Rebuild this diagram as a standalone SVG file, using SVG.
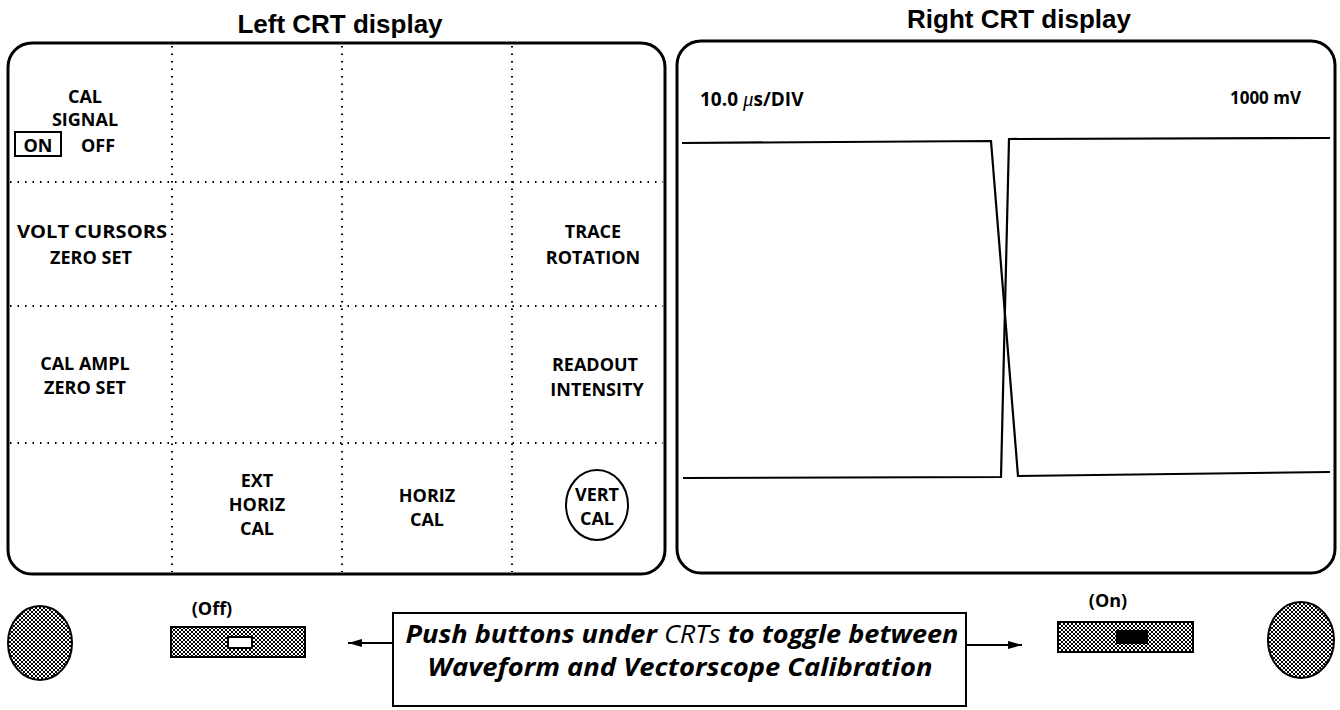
<svg xmlns="http://www.w3.org/2000/svg" width="1340" height="710" viewBox="0 0 1340 710">
<style>
.title{font-family:"Liberation Sans",Arial,sans-serif;font-weight:bold;font-size:26px;fill:#000;text-anchor:middle}
.lbl{font-family:"Open Sans","Liberation Sans",sans-serif;font-weight:bold;font-size:18px;fill:#000;text-anchor:middle}
.rd{font-family:"Open Sans","Liberation Sans",sans-serif;font-weight:bold;font-size:17px;fill:#000}
.frame{fill:none;stroke:#000;stroke-width:3}
.grid{stroke:#000;stroke-width:2;stroke-dasharray:1.5 6;fill:none}
.trace{fill:none;stroke:#000;stroke-width:2.2;stroke-linejoin:miter}
.hatch{fill:url(#hp);stroke:#000;stroke-width:2}
.note{font-family:"Open Sans","Liberation Sans",sans-serif;font-style:italic;font-weight:bold;font-size:25px;fill:#000;text-anchor:middle}
</style>
<defs>
<pattern id="hp" width="4" height="4" patternUnits="userSpaceOnUse">
<rect width="4" height="4" fill="#fff"/>
<path d="M0,4 L4,0 M0,0 L4,4" stroke="#000" stroke-width="1"/>
</pattern>
<marker id="ah" viewBox="0 0 14 10" refX="14" refY="5" markerWidth="14" markerHeight="10" markerUnits="userSpaceOnUse" orient="auto">
<path d="M0,1 L14,5 L0,9 Z" fill="#000"/>
</marker>
</defs>
<rect width="1340" height="710" fill="#fff"/>

<g id="left-crt">
<text class="title" x="340" y="33">Left CRT display</text>
<rect class="frame" x="8" y="43" width="657" height="531" rx="24"/>
<path class="grid" d="M172,46 V572 M342,46 V572 M512,46 V572 M10,182 H663 M10,306 H663 M10,443 H663"/>
</g>

<g id="cal-signal">
<text class="lbl" x="85" y="103">CAL</text>
<text class="lbl" x="85" y="126">SIGNAL</text>
<rect x="15" y="132" width="46" height="24" fill="none" stroke="#000" stroke-width="2"/>
<text class="lbl" x="38" y="152">ON</text>
<text class="lbl" x="98" y="152">OFF</text>
</g>
<g id="volt-cursors">
<text class="lbl" x="92" y="238" textLength="150" lengthAdjust="spacingAndGlyphs">VOLT CURSORS</text>
<text class="lbl" x="91" y="264">ZERO SET</text>
</g>
<g id="trace-rotation">
<text class="lbl" x="593" y="238">TRACE</text>
<text class="lbl" x="593" y="264">ROTATION</text>
</g>
<g id="cal-ampl">
<text class="lbl" x="85" y="370">CAL AMPL</text>
<text class="lbl" x="85" y="394">ZERO SET</text>
</g>
<g id="readout-intensity">
<text class="lbl" x="595" y="371">READOUT</text>
<text class="lbl" x="597" y="396">INTENSITY</text>
</g>
<g id="ext-horiz-cal">
<text class="lbl" x="257" y="487">EXT</text>
<text class="lbl" x="257" y="511">HORIZ</text>
<text class="lbl" x="257" y="535">CAL</text>
</g>
<g id="horiz-cal">
<text class="lbl" x="427" y="502">HORIZ</text>
<text class="lbl" x="427" y="526">CAL</text>
</g>
<g id="vert-cal">
<ellipse cx="597" cy="505" rx="31" ry="35" fill="none" stroke="#000" stroke-width="2"/>
<text class="lbl" x="597" y="501">VERT</text>
<text class="lbl" x="597" y="525">CAL</text>
</g>

<g id="right-crt">
<text class="title" x="1019" y="28">Right CRT display</text>
<rect class="frame" x="677" y="41" width="658" height="532" rx="24"/>
<text class="rd" x="700" y="106" style="font-size:19px">10.0 <tspan style="font-style:italic;font-family:'Liberation Serif',serif;font-weight:normal;font-size:21px">μ</tspan>s/DIV</text>
<text class="rd" x="1301" y="104" text-anchor="end">1000 mV</text>
<path class="trace" d="M682,143 L991,141 L1018,476 L1330,472"/>
<path class="trace" d="M1330,138 L1009,139 L1001,477 L683,478"/>
</g>

<g id="left-knob">
<ellipse class="hatch" cx="40" cy="643" rx="32" ry="37"/>
</g>
<g id="off-button">
<text class="lbl" x="212" y="615">(Off)</text>
<rect class="hatch" x="171" y="627" width="134" height="30"/>
<rect x="228" y="637" width="24" height="11" fill="#fff" stroke="#000" stroke-width="2"/>
</g>
<g id="note">
<rect x="393" y="613" width="573" height="93" fill="#fff" stroke="#000" stroke-width="2"/>
<text class="note" x="682" y="643" textLength="553" lengthAdjust="spacingAndGlyphs">Push buttons under <tspan font-weight="normal">CRTs</tspan> to toggle between</text>
<text class="note" x="680" y="676" textLength="505" lengthAdjust="spacingAndGlyphs">Waveform and Vectorscope Calibration</text>
</g>
<g id="on-button">
<text class="lbl" x="1108" y="607">(On)</text>
<rect class="hatch" x="1058" y="622" width="135" height="30"/>
<rect x="1116" y="630" width="32" height="14" fill="#000"/>
</g>
<g id="right-knob">
<ellipse class="hatch" cx="1301" cy="640" rx="33" ry="38"/>
</g>
<g id="connectors">
<line x1="393" y1="643" x2="348" y2="643" stroke="#000" stroke-width="2" marker-end="url(#ah)"/>
<line x1="966" y1="645" x2="1022" y2="645" stroke="#000" stroke-width="2" marker-end="url(#ah)"/>
</g>
</svg>
